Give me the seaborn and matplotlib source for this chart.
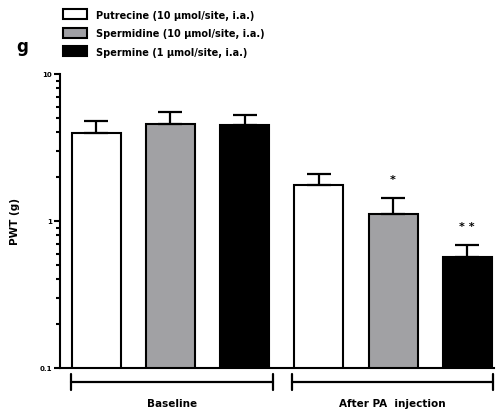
import pandas as pd
import matplotlib.pyplot as plt
import matplotlib.patches as mpatches
import seaborn as sns

# ------------------------------------------
# data
# ------------------------------------------
conditions = ['Baseline', 'After PA  injection']
treatments = ['Putrecine (10 \u00b5mol/site, i.a.)',
              'Spermidine (10 \u00b5mol/site, i.a.)',
              'Spermine (1 \u00b5mol/site, i.a.)']
pwt_baseline = [3.97, 4.57, 4.50]
sem_baseline = [0.82, 0.93, 0.76]
pwt_after = [1.76, 1.12, 0.57]
sem_after = [0.33, 0.31, 0.12]
stars_after = ['', '*', '**']

colors = ['#ffffff', '#a0a0a5', '#000000']

rows = []
for cond, vals, sems, marks in [(conditions[0], pwt_baseline, sem_baseline, ['', '', '']),
                                (conditions[1], pwt_after, sem_after, stars_after)]:
    for t, v, s, m in zip(treatments, vals, sems, marks):
        rows.append({'condition': cond, 'treatment': t, 'pwt': v, 'sem': s,
                     'star': m, 'bar': cond + ' | ' + t})
df = pd.DataFrame(rows)

# ------------------------------------------
# style
# ------------------------------------------
sns.set_theme(style='ticks', rc={'text.color': 'black', 'axes.labelcolor': 'black',
                                 'xtick.color': 'black', 'ytick.color': 'black'})
plt.rcParams['font.family'] = ['DejaVu Sans']
plt.rcParams['font.weight'] = 'bold'

fig = plt.figure(figsize=(5, 4.14), dpi=100)
ax = fig.add_axes([0.12, 0.1087, 0.868, 0.7103])
ax.set_yscale('log')

sns.barplot(data=df, x='bar', y='pwt', hue='treatment', dodge=False,
            palette=colors, width=0.66, edgecolor='black', linewidth=1.5,
            errorbar=None, legend=False, ax=ax)

xs = range(len(df))
ax.errorbar(xs, df['pwt'], yerr=[[0] * len(df), df['sem']], fmt='none',
            ecolor='black', elinewidth=1.6, capsize=8.5, capthick=1.6, zorder=1)

for x, (top, s) in enumerate(zip(df['pwt'] + df['sem'], df['star'])):
    if s:
        ax.annotate(' '.join(s), (x, top), xytext=(0, 10), textcoords='offset points',
                    ha='center', va='bottom', fontsize=8, fontweight='bold')

ax.set_ylim(0.1, 10)
ax.set_xlim(-0.485, 5.36)
ax.set_yticks([0.1, 1, 10])
ax.set_yticklabels(['0.1', '1', '10'], fontsize=5, fontweight='bold')
ax.tick_params(axis='y', which='major', length=4, width=1.5, pad=2, color='black')
ax.tick_params(axis='y', which='minor', length=3, width=1.5, color='black')
ax.tick_params(axis='x', length=0, labelbottom=False)
ax.set_xlabel('')
ax.set_ylabel('PWT (g)', fontsize=7.5, fontweight='bold', labelpad=14)
for sp in ['top', 'right']:
    ax.spines[sp].set_visible(False)
for sp in ['left', 'bottom']:
    ax.spines[sp].set_linewidth(1.5)
    ax.spines[sp].set_color('black')

# group brackets under the axis
tr = ax.get_xaxis_transform()
for (x0, x1), lab in zip([(-0.34, 2.38), (2.64, 5.35)], conditions):
    ax.plot([x0, x1], [-0.048, -0.048], color='black', lw=1.6, transform=tr, clip_on=False)
    for xe in (x0, x1):
        ax.plot([xe, xe], [-0.02, -0.076], color='black', lw=1.6, transform=tr, clip_on=False)
    ax.text((x0 + x1) / 2, -0.12, lab, transform=tr, ha='center', va='center',
            fontsize=7.5, fontweight='bold')

handles = [mpatches.Patch(facecolor=c, edgecolor='black', linewidth=1.5) for c in colors]
ax.legend(handles, treatments, loc='upper left', bbox_to_anchor=(0.126, 0.975),
          bbox_transform=fig.transFigure, frameon=False,
          handlelength=2.5, handleheight=1.2, labelspacing=0.85, handletextpad=0.9,
          borderpad=0, borderaxespad=0, prop={'weight': 'bold', 'size': 7})

fig.text(0.044, 0.886, 'g', fontsize=12, fontweight='bold', ha='center', va='center',
         color='black')

fig.savefig('out.png', dpi=100)
